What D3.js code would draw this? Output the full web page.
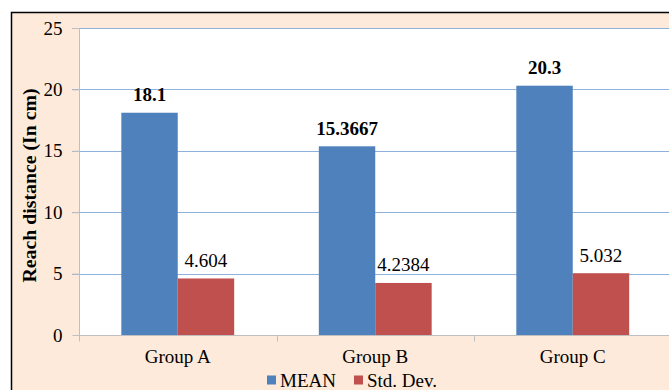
<!DOCTYPE html>
<html>
<head>
<meta charset="utf-8">
<script src="https://cdn.jsdelivr.net/npm/d3@7"></script>
<style>
  html, body { margin: 0; padding: 0; background: #ffffff; overflow: hidden; }
</style>
</head>
<body>
<svg id="chart" width="669" height="390"></svg>
<script>
// Reach distance per group: mean and standard deviation
const groups = ["Group A", "Group B", "Group C"];
const seriesNames = ["MEAN", "Std. Dev."];
const meanValues = [18.1, 15.3667, 20.3];
const stdValues = [4.604, 4.2384, 5.032];
const yTicks = [0, 5, 10, 15, 20, 25];
const seriesColors = ["#4F81BD", "#C0504D"];

const FONT = '"Liberation Serif", "Times New Roman", Times, serif';
const svg = d3.select("#chart");
const W = 669, H = 390;

// chart frame
svg.append("rect").attr("x", 0).attr("y", 0).attr("width", W).attr("height", H).attr("fill", "#ffffff");
svg.append("rect").attr("x", 11.5).attr("y", 12.5).attr("width", W + 20).attr("height", H + 20)
  .attr("fill", "#FDEADA").attr("stroke", "#000000").attr("stroke-width", 1.5);

const plot = { left: 79, right: 671.5, top: 28, bottom: 335 };

const x0 = d3.scaleBand().domain(groups).range([plot.left, plot.right]).paddingInner(0).paddingOuter(0);
const y = d3.scaleLinear().domain([0, 25]).range([plot.bottom, plot.top]);

// plot area background
svg.append("rect").attr("x", plot.left).attr("y", plot.top)
  .attr("width", plot.right - plot.left).attr("height", plot.bottom - plot.top).attr("fill", "#ffffff");

// horizontal gridlines
svg.append("g").selectAll("line").data(yTicks.filter(t => t > 0)).join("line")
  .attr("x1", plot.left - 7).attr("x2", plot.right)
  .attr("y1", d => Math.round(y(d)) + 0.5).attr("y2", d => Math.round(y(d)) + 0.5)
  .attr("stroke", "#8EB2DC").attr("stroke-width", 1.2);

// bars: two per group, gap width 150% of a bar
const bandW = x0.bandwidth();
const barW = bandW / 3.5;
const x1 = d3.scaleBand().domain(seriesNames).range([0, barW * 2]);
const data = groups.map((g, i) => ({ group: g, values: [meanValues[i], stdValues[i]] }));

const gGroups = svg.append("g").selectAll("g").data(data).join("g")
  .attr("transform", d => `translate(${x0(d.group) + (bandW - barW * 2) / 2},0)`);

gGroups.selectAll("rect").data(d => d.values.map((v, k) => ({ v, k }))).join("rect")
  .attr("x", d => x1(seriesNames[d.k]))
  .attr("width", x1.bandwidth())
  .attr("y", d => y(d.v))
  .attr("height", d => y(0) - y(d.v))
  .attr("fill", d => seriesColors[d.k]);

// value labels
gGroups.selectAll("text").data(d => d.values.map((v, k) => ({ v, k }))).join("text")
  .attr("x", d => x1(seriesNames[d.k]) + x1.bandwidth() / 2)
  .attr("y", d => y(d.v) - 11.5)
  .attr("text-anchor", "middle")
  .style("font-family", FONT)
  .style("font-size", "19px")
  .style("font-weight", d => d.k === 0 ? "bold" : "normal")
  .attr("fill", "#000000")
  .text(d => d.v);

// y axis
const yAxis = d3.axisLeft(y).tickValues(yTicks).tickSize(7).tickPadding(10).tickFormat(d3.format("d"));
const gy = svg.append("g").attr("transform", `translate(${plot.left + 0.5},0)`).call(yAxis);
gy.select(".domain").attr("stroke", "#BFBFBF").attr("d", `M0,${plot.top}V${plot.bottom}`);
gy.selectAll(".tick line").attr("stroke", "#BFBFBF");
gy.selectAll(".tick text").style("font-family", FONT).style("font-size", "19px").attr("fill", "#000000");

// x axis
const xAxis = d3.axisBottom(x0).tickSize(0).tickPadding(0);
const gx = svg.append("g").attr("transform", `translate(0,${plot.bottom + 0.5})`).call(xAxis);
gx.select(".domain").attr("stroke", "#BFBFBF").attr("d", `M${plot.left},0H${plot.right}`);
gx.selectAll(".tick text").attr("dy", null).attr("y", 27.5)
  .style("font-family", FONT).style("font-size", "19px").attr("fill", "#000000");
// category divider ticks
const dividers = groups.map(g => x0(g)).concat([plot.right]);
gx.append("g").selectAll("line").data(dividers).join("line")
  .attr("x1", d => Math.round(d) + 0.5).attr("x2", d => Math.round(d) + 0.5)
  .attr("y1", 0).attr("y2", 6).attr("stroke", "#BFBFBF");

// y axis title
svg.append("text")
  .attr("transform", `translate(35.5,${(plot.top + plot.bottom) / 2 + 4}) rotate(-90)`)
  .attr("text-anchor", "middle")
  .style("font-family", FONT).style("font-size", "19.8px").style("font-weight", "bold")
  .attr("fill", "#000000")
  .text("Reach distance (In cm)");

// legend
const legend = svg.append("g").attr("transform", "translate(267,386.5)");
const legendItems = [{ name: seriesNames[0], x: 0 }, { name: seriesNames[1], x: 87 }];
legendItems.forEach((it, k) => {
  legend.append("rect").attr("x", it.x).attr("y", -11).attr("width", 9).attr("height", 9).attr("fill", seriesColors[k]);
  legend.append("text").attr("x", it.x + 13).attr("y", 0)
    .style("font-family", FONT).style("font-size", "19px").attr("fill", "#000000").text(it.name);
});
</script>
</body>
</html>
